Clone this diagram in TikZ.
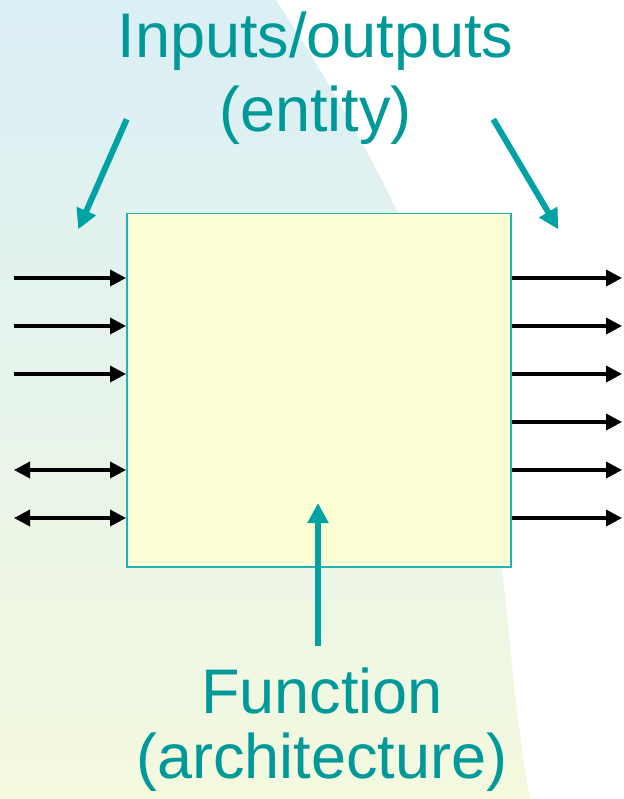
\documentclass[tikz,border=0pt]{standalone}
\usepackage{fontspec}
\setmainfont{Liberation Sans}
\usetikzlibrary{arrows.meta}
\definecolor{tealtext}{RGB}{0,153,153}
\definecolor{tealarrow}{RGB}{0,163,163}
\definecolor{boxfill}{RGB}{255,255,213}
\definecolor{boxline}{RGB}{30,180,180}
\definecolor{bgtop}{RGB}{218,239,246}
\definecolor{bgbot}{RGB}{244,249,222}
\tikzset{
  blk/.style={line width=3.5pt, black},
  io/.style={blk, -{Triangle[length=16pt,width=16pt]}},
  bidir/.style={blk, {Triangle[length=16pt,width=16pt]}-{Triangle[length=16pt,width=16pt]}},
  tealarr/.style={line width=6pt, tealarrow, -{Triangle[length=20pt,width=20pt]}},
  lbl/.style={text=tealtext, align=center, inner sep=0pt, font=\fontsize{63}{73.7}\selectfont},
}
\begin{document}
\begin{tikzpicture}[x=1pt,y=-1pt]
\useasboundingbox (0,0) rectangle (623,799);
\fill[white] (0,0) rectangle (623,799);
\shade[top color=bgtop, bottom color=bgbot] (0,0) -- (276,0) .. controls (536,400) and (485,549) .. (530,799) -- (0,799) -- cycle;

\node[draw=boxline, fill=boxfill, line width=1.5pt, minimum width=384pt, minimum height=353pt, anchor=north west, inner sep=0pt] (box) at (126,213) {};

% left inputs
\foreach \i/\y in {1/278,2/326,3/374} {
  \coordinate (l\i) at (14,\y);
  \draw[io] (l\i) -- (l\i -| box.west);
}
\foreach \i/\y in {4/470,5/518} {
  \coordinate (l\i) at (14,\y);
  \draw[bidir] (l\i) -- (l\i -| box.west);
}
% right outputs
\foreach \i/\y in {1/278,2/326,3/374,4/422,5/470,6/518} {
  \coordinate (r\i) at (622,\y);
  \draw[io] (r\i -| box.east) -- (r\i);
}

\node[lbl, anchor=base] (iotext) at (315.5,131.7) {Inputs/outputs\\(entity)};
\node[lbl, anchor=base, font=\fontsize{63}{65}\selectfont] (fntext) at (322,778) {Function\\(architecture)};

\coordinate (ta1) at (126.7,119.3);
\coordinate (tb1) at (78.3,229.3);
\coordinate (ta2) at (493.3,119.3);
\coordinate (tb2) at (558.3,229.3);
\coordinate (ua) at (318,646);
\coordinate (ub) at (318,503);
\draw[tealarr] (ta1) -- (tb1);
\draw[tealarr] (ta2) -- (tb2);
\draw[tealarr] (ua) -- (ub);
\end{tikzpicture}
\end{document}
